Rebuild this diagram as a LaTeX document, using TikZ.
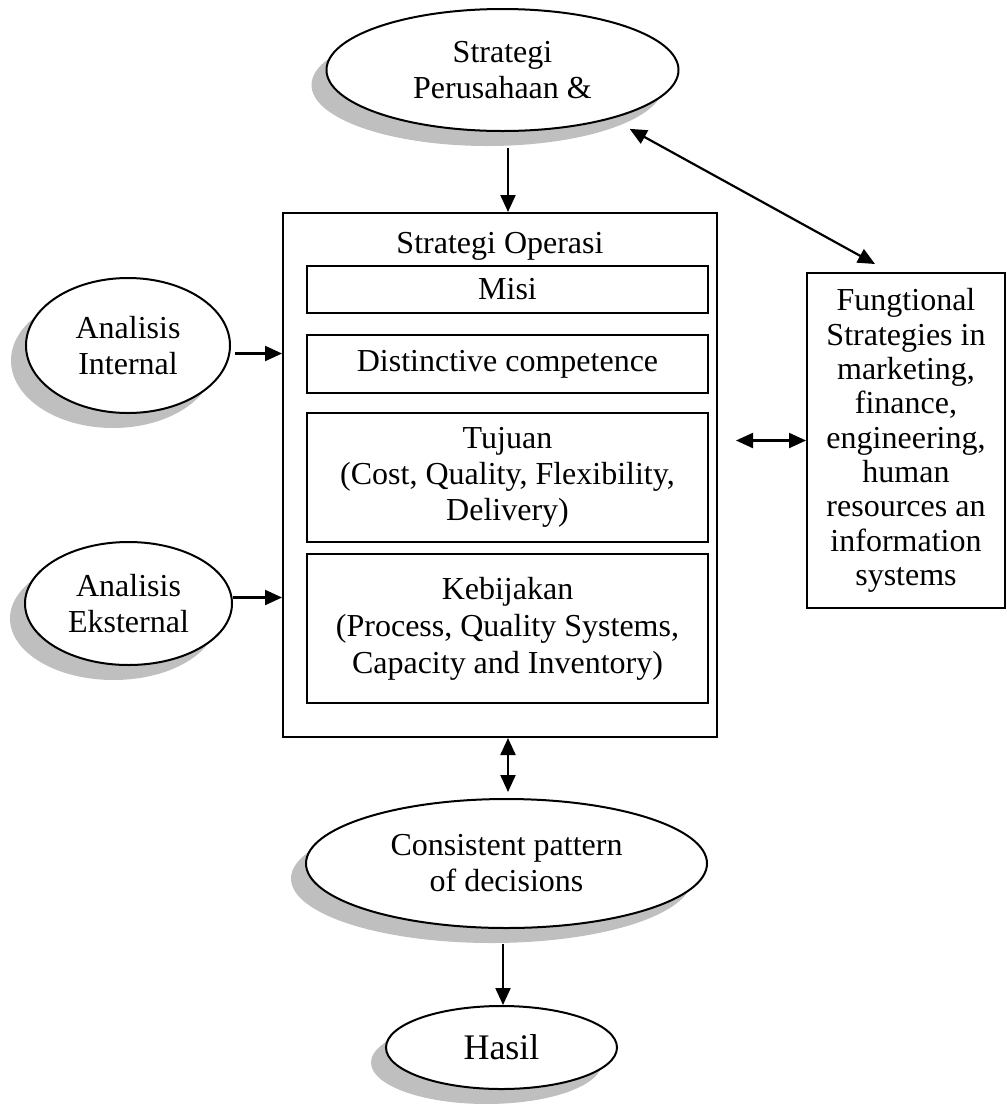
\documentclass[tikz,border=0pt]{standalone}
\usepackage{fontspec}
\setmainfont{Liberation Serif}
\usepackage{tikz}
\usetikzlibrary{arrows.meta,positioning,shapes.geometric,shadows}
\tikzset{
  oval/.style={ellipse,draw,line width=2pt,fill=white,inner sep=0pt,align=center,
    drop shadow={shadow xshift=-15pt,shadow yshift=-15pt,fill=black!25,opacity=1}},
  box/.style={rectangle,draw,line width=2pt,inner sep=0pt,align=center},
  arr/.style={-{Triangle[length=17pt,width=15pt]},line width=2.2pt},
  arrboth/.style={{Triangle[length=17pt,width=15pt]}-{Triangle[length=17pt,width=15pt]},line width=2.2pt},
  every node/.style={font=\fontsize{32}{36}\selectfont}
}

\begin{document}
\begin{tikzpicture}[x=1pt,y=-1pt,line cap=butt,line join=miter]
  % ---- page window (pixel grid of the screenshot) ----
  \useasboundingbox (0,0) rectangle (1007,1104);

  % ---- top: corporate strategy ----
  \node[oval,minimum width=352pt,minimum height=122pt] (persh) at (502.5,70) {Strategi\\Perusahaan \&};

  % ---- operations strategy frame ----
  \node[box,minimum width=434pt,minimum height=524pt] (ops) at (500,475) {};
  \node[anchor=base] (opstitle) at (500,253) {Strategi Operasi};
  \node[box,minimum width=401pt,minimum height=47pt] (misi) at (507.5,289.5) {Misi};
  \node[box,minimum width=401pt,minimum height=58pt] (distinct) at (507.5,364) {Distinctive competence};
  \node[box,minimum width=401pt,minimum height=129pt] (tujuan) at (507.5,477.5)
    {Tujuan\\(Cost, Quality, Flexibility,\\Delivery)};
  \node[box,minimum width=401pt,minimum height=149pt,font=\fontsize{32}{37}\selectfont] (kebijakan) at (507.5,628.5)
    {Kebijakan\\(Process, Quality Systems,\\Capacity and Inventory)};

  % ---- analyses on the left ----
  \node[oval,minimum width=204pt,minimum height=135pt] (intern) at (128,345.5) {Analisis\\Internal};
  \node[oval,minimum width=207pt,minimum height=123pt] (ekstern) at (128.5,603.5) {Analisis\\Eksternal};

  % ---- functional strategies on the right ----
  \node[box,minimum width=198pt,minimum height=335pt,font=\fontsize{32}{34.3}\selectfont] (fung) at (906,440.5)
    {Fungtional\\Strategies in\\marketing,\\finance,\\engineering,\\human\\resources an\\information\\systems};

  % ---- bottom ----
  \node[oval,minimum width=401pt,minimum height=129pt] (consist) at (506.5,863.5) {Consistent pattern\\of decisions};
  \node[oval,minimum width=231pt,minimum height=83pt,font=\fontsize{36}{40}\selectfont] (hasil) at (501.5,1047.5) {Hasil};

  % ---- connectors ----
  \draw[arr] ([xshift=8pt,yshift=-16pt]ops.north |- persh.south) -- ([xshift=8pt]ops.north);
  \draw[arr] ([shift={(4pt,-8pt)}]intern.east) -- ([yshift=-8pt]intern.east -| ops.west);
  \draw[arr] ([yshift=6pt]ekstern.east) -- ([yshift=6pt]ekstern.east -| ops.west);
  \draw[arrboth] ([xshift=18pt]ops.east |- fung.west) -- (fung.west);
  \draw[arrboth] ([shift={(2pt,-15pt)}]persh.south east) -- ([shift={(-31pt,8pt)}]fung.north);
  \draw[arrboth] ([xshift=8pt]ops.south) -- ([xshift=8pt,yshift=6pt]ops.south |- consist.north);
  \draw[arr] ([xshift=1.5pt,yshift=-15pt]hasil.north |- consist.south) -- ([xshift=1.5pt]hasil.north);
\end{tikzpicture}
\end{document}
